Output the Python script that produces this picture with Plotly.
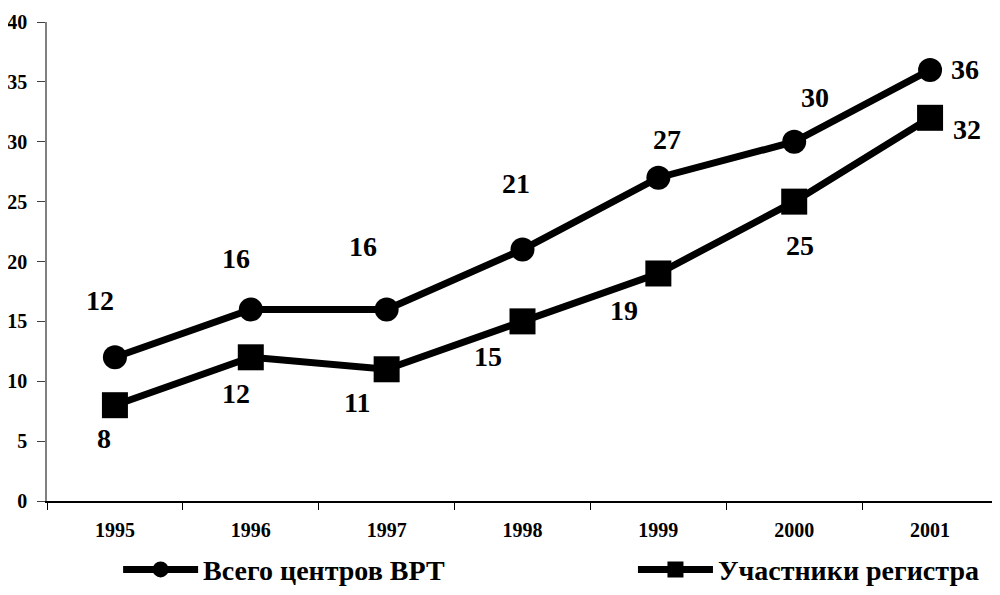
import plotly.graph_objects as go

years = ["1995", "1996", "1997", "1998", "1999", "2000", "2001"]
total_centers = [12, 16, 16, 21, 27, 30, 36]
registry_members = [8, 12, 11, 15, 19, 25, 32]
series_names = ["Всего центров ВРТ", "Участники регистра"]

# label offsets (pixels) for the value labels
total_label_shift = [(-15, 57), (-15, 51), (-24, 63), (-7, 66), (9, 38), (21, 44), (35, 0)]
registry_label_shift = [(-11, -33), (-15, -36), (-30, -33), (-35, -35), (-34, -37), (6, -44), (37, -12)]

FONT = "Liberation Serif"

fig = go.Figure()
fig.add_trace(go.Scatter(
    x=years, y=total_centers, name="<b>%s</b>" % series_names[0], mode="lines+markers",
    line=dict(color="black", width=7),
    marker=dict(symbol="circle", size=24, color="black"),
    legend="legend",
))
fig.add_trace(go.Scatter(
    x=years, y=registry_members, name="<b>%s</b>" % series_names[1], mode="lines+markers",
    line=dict(color="black", width=7),
    marker=dict(symbol="square", size=26, color="black"),
    legend="legend2",
))

annotations = []
for i, (v, (dx, dy)) in enumerate(zip(total_centers, total_label_shift)):
    annotations.append(dict(x=i, y=v, xref="x", yref="y", text="<b>%d</b>" % v, showarrow=False,
                            xshift=dx, yshift=dy,
                            font=dict(family=FONT, size=28, color="black")))
for i, (v, (dx, dy)) in enumerate(zip(registry_members, registry_label_shift)):
    annotations.append(dict(x=i, y=v, xref="x", yref="y", text="<b>%d</b>" % v, showarrow=False,
                            xshift=dx, yshift=dy,
                            font=dict(family=FONT, size=28, color="black")))

legend_common = dict(orientation="h", xanchor="left", xref="container",
                     yref="container", y=0.043, yanchor="middle",
                     font=dict(family=FONT, size=28, color="black"),
                     itemwidth=75, bgcolor="rgba(0,0,0,0)")

fig.update_layout(
    width=992, height=587,
    margin=dict(l=39, r=2, t=14, b=94, autoexpand=False),
    plot_bgcolor="white", paper_bgcolor="white",
    font=dict(family=FONT, color="black"),
    showlegend=True,
    legend=dict(x=0.111, **legend_common),
    legend2=dict(x=0.630, **legend_common),
    annotations=annotations,
    xaxis=dict(
        type="category", range=[-0.5, 6.5], showgrid=False, automargin=False,
        showline=True, linecolor="black", linewidth=1.5,
        ticks="outside", tickson="boundaries", ticklen=7, tickcolor="black",
        tickprefix="<b>", ticksuffix="</b>", ticklabelstandoff=10,
        tickfont=dict(family=FONT, size=20, color="black"),
    ),
    yaxis=dict(
        range=[0, 40], dtick=5, showgrid=False, zeroline=False, automargin=False,
        showline=True, linecolor="#808080", linewidth=1.5,
        ticks="outside", ticklen=8, tickcolor="#404040",
        tickprefix="<b>", ticksuffix="</b>", ticklabelstandoff=6,
        tickfont=dict(family=FONT, size=20, color="black"),
    ),
)

fig.write_html("out.html")
